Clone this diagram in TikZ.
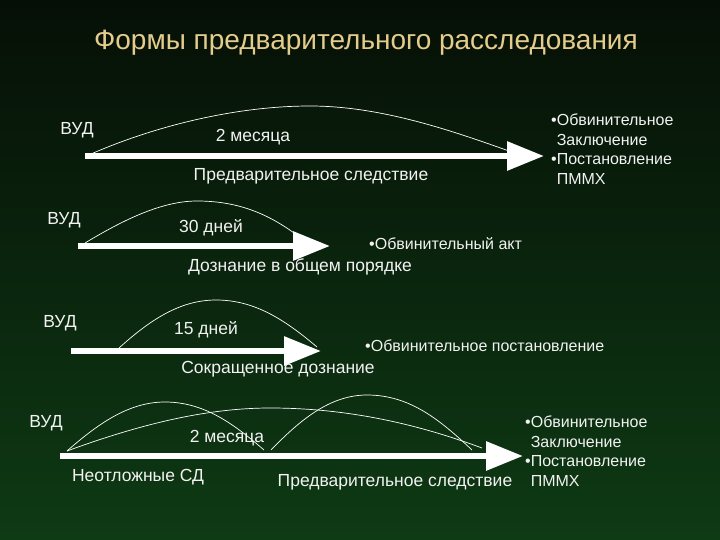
\documentclass[tikz,border=0pt]{standalone}
\usepackage{fontspec}
\setmainfont{Liberation Sans}
\usetikzlibrary{arrows.meta}
\definecolor{bgtop}{RGB}{6,15,6}
\definecolor{bgbot}{RGB}{14,58,20}
\definecolor{titlec}{RGB}{228,204,140}
\definecolor{txt}{RGB}{242,242,242}
\begin{document}
\begin{tikzpicture}[x=1pt,y=-1pt,
  bigarrow/.style={draw=white, line width=6pt, -{Triangle[length=37pt,width=28pt]}},
  arcline/.style={draw=white, line width=0.7pt},
  lbl/.style={text=txt, font=\fontsize{17.5}{20}\selectfont, inner sep=0pt},
  res/.style={text=txt, font=\fontsize{16}{19.5}\selectfont, align=left, anchor=west, inner sep=0pt}]
\shade[top color=bgtop,bottom color=bgbot] (0,0) rectangle (720,540);
\useasboundingbox (0,0) rectangle (720,540);
\node[text=titlec, font=\fontsize{28}{30}\selectfont, inner sep=0pt] (title) at (366,43) {Формы предварительного расследования};

% Row 1
\coordinate (s1) at (85,156); \coordinate (e1) at (544,156);
\draw[bigarrow] (s1) -- (e1);
\coordinate (a1s) at (91,154); \coordinate (a1p) at (310,106); \coordinate (a1e) at (509,151);
\draw[arcline] (a1s) .. controls (160,124) and (240,106) .. (a1p) .. controls (380,106) and (450,130) .. (a1e);
\node[lbl] (v1) at (77,130) {ВУД};
\node[lbl] (t1) at (253,137) {2 месяца};
\node[lbl] (n1) at (311,176) {Предварительное следствие};
\node[res] (r1) at (551,149) {•Обвинительное\\\phantom{•}Заключение\\•Постановление\\\phantom{•}ПММХ};

% Row 2
\coordinate (s2) at (78,246); \coordinate (e2) at (330,246);
\draw[bigarrow] (s2) -- (e2);
\coordinate (a2s) at (85,243); \coordinate (a2p) at (197,201); \coordinate (a2e) at (294,233);
\draw[arcline] (a2s) .. controls (120,222) and (160,201) .. (a2p) .. controls (235,201) and (265,212) .. (a2e);
\node[lbl] (v2) at (64,220) {ВУД};
\node[lbl] (t2) at (211,228) {30 дней};
\node[lbl] (n2) at (300,267) {Дознание в общем порядке};
\node[res] (r2) at (369,244) {•Обвинительный акт};

% Row 3
\coordinate (s3) at (71,351); \coordinate (e3) at (321,351);
\draw[bigarrow] (s3) -- (e3);
\coordinate (a3s) at (119,348); \coordinate (a3p) at (216,300); \coordinate (a3e) at (317,347);
\draw[arcline] (a3s) .. controls (150,320) and (180,300) .. (a3p) .. controls (255,300) and (285,320) .. (a3e);
\node[lbl] (v3) at (60,323) {ВУД};
\node[lbl] (t3) at (206,330) {15 дней};
\node[lbl] (n3) at (278,369) {Сокращенное дознание};
\node[res] (r3) at (365,346) {•Обвинительное постановление};

% Row 4
\coordinate (s4) at (60,456); \coordinate (e4) at (523,456);
\draw[bigarrow] (s4) -- (e4);
\coordinate (b1s) at (67,451); \coordinate (b1p) at (165,402); \coordinate (b1e) at (264,450);
\draw[arcline] (b1s) .. controls (100,422) and (130,402) .. (b1p) .. controls (205,402) and (235,425) .. (b1e);
\coordinate (b2p) at (270,408); \coordinate (b2e) at (482,448);
\draw[arcline] (b1s) .. controls (130,428) and (200,408) .. (b2p) .. controls (350,408) and (420,425) .. (b2e);
\coordinate (b3s) at (271,450); \coordinate (b3p) at (367,395); \coordinate (b3e) at (472,450);
\draw[arcline] (b3s) .. controls (300,420) and (330,395) .. (b3p) .. controls (410,395) and (440,420) .. (b3e);
\node[lbl] (v4) at (46,423) {ВУД};
\node[lbl] (t4) at (227,438) {2 месяца};
\node[lbl] (n4) at (138,477) {Неотложные СД};
\node[lbl] (n5) at (395,482) {Предварительное следствие};
\node[res] (r4) at (525,451) {•Обвинительное\\\phantom{•}Заключение\\•Постановление\\\phantom{•}ПММХ};
\end{tikzpicture}
\end{document}
